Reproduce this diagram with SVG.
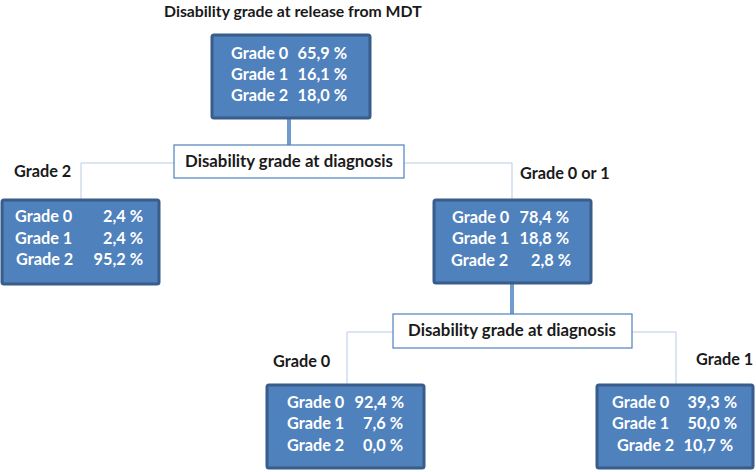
<svg xmlns="http://www.w3.org/2000/svg" width="756" height="472" viewBox="0 0 756 472">
<style>
text{font-family:Lato,"Noto Sans","Liberation Sans",sans-serif;font-weight:bold;font-size:16.3px}
.lbl{fill:#1a1a1a}
.w{fill:#ffffff}
.n{text-anchor:end}
.dt{font-size:16.8px;text-anchor:middle}
.box{fill:#4f81bd;stroke:#385d8a;stroke-width:3}
.dec{fill:#ffffff;stroke:#4f81bd;stroke-width:1.2}
.thin{fill:none;stroke:#b9cde5;stroke-width:1}
.thick{fill:none;stroke:#6f9bd1;stroke-width:4}
</style>
<rect width="756" height="472" fill="#ffffff"/>
<text class="lbl" x="164" y="17" style="font-size:15.8px">Disability grade at release from MDT</text>
<g id="connectors">
<path class="thin" d="M174,163 H81 V200"/>
<path class="thin" d="M404,163 H512 V200"/>
<path class="thin" d="M393,332 H347 V385"/>
<path class="thin" d="M632,332 H676 V385"/>
<path class="thick" d="M289,118 V145"/>
<path class="thick" d="M512,283 V314"/>
</g>
<g id="root">
<rect class="box" x="212" y="35" width="158" height="83" rx="2"/>
<text class="w" x="231" y="59">Grade 0</text><text class="w n" x="347" y="59">65,9 %</text>
<text class="w" x="231" y="80">Grade 1</text><text class="w n" x="347" y="80">16,1 %</text>
<text class="w" x="231" y="101">Grade 2</text><text class="w n" x="347" y="101">18,0 %</text>
</g>
<g id="split1">
<rect class="dec" x="174" y="145" width="230" height="33"/>
<text class="lbl dt" x="289" y="167">Disability grade at diagnosis</text>
</g>
<g id="left">
<text class="lbl" x="14" y="177">Grade 2</text>
<rect class="box" x="2" y="200" width="157" height="84" rx="2"/>
<text class="w" x="15" y="222">Grade 0</text><text class="w n" x="143" y="222">2,4 %</text>
<text class="w" x="15" y="244">Grade 1</text><text class="w n" x="143" y="244">2,4 %</text>
<text class="w" x="16" y="265">Grade 2</text><text class="w n" x="143" y="265">95,2 %</text>
</g>
<g id="right">
<text class="lbl" x="520" y="179">Grade 0 or 1</text>
<rect class="box" x="434" y="200" width="157" height="83" rx="2"/>
<text class="w" x="452" y="223">Grade 0</text><text class="w n" x="569" y="223">78,4 %</text>
<text class="w" x="452" y="244">Grade 1</text><text class="w n" x="569" y="244">18,8 %</text>
<text class="w" x="451" y="266">Grade 2</text><text class="w n" x="571" y="266">2,8 %</text>
</g>
<g id="split2">
<rect class="dec" x="393" y="314" width="239" height="34"/>
<text class="lbl dt" x="512" y="336">Disability grade at diagnosis</text>
</g>
<g id="bottomleft">
<text class="lbl" x="273" y="367">Grade 0</text>
<rect class="box" x="267" y="385" width="157" height="83" rx="2"/>
<text class="w" x="287" y="408">Grade 0</text><text class="w n" x="404" y="408">92,4 %</text>
<text class="w" x="287" y="429">Grade 1</text><text class="w n" x="403" y="429">7,6 %</text>
<text class="w" x="287" y="451">Grade 2</text><text class="w n" x="403" y="451">0,0 %</text>
</g>
<g id="bottomright">
<text class="lbl" x="696" y="365">Grade 1</text>
<rect class="box" x="597" y="385" width="156" height="83" rx="2"/>
<text class="w" x="612" y="408">Grade 0</text><text class="w n" x="737" y="408">39,3 %</text>
<text class="w" x="612" y="429">Grade 1</text><text class="w n" x="737" y="429">50,0 %</text>
<text class="w" x="617" y="451">Grade 2</text><text class="w n" x="733" y="451">10,7 %</text>
</g>
</svg>
